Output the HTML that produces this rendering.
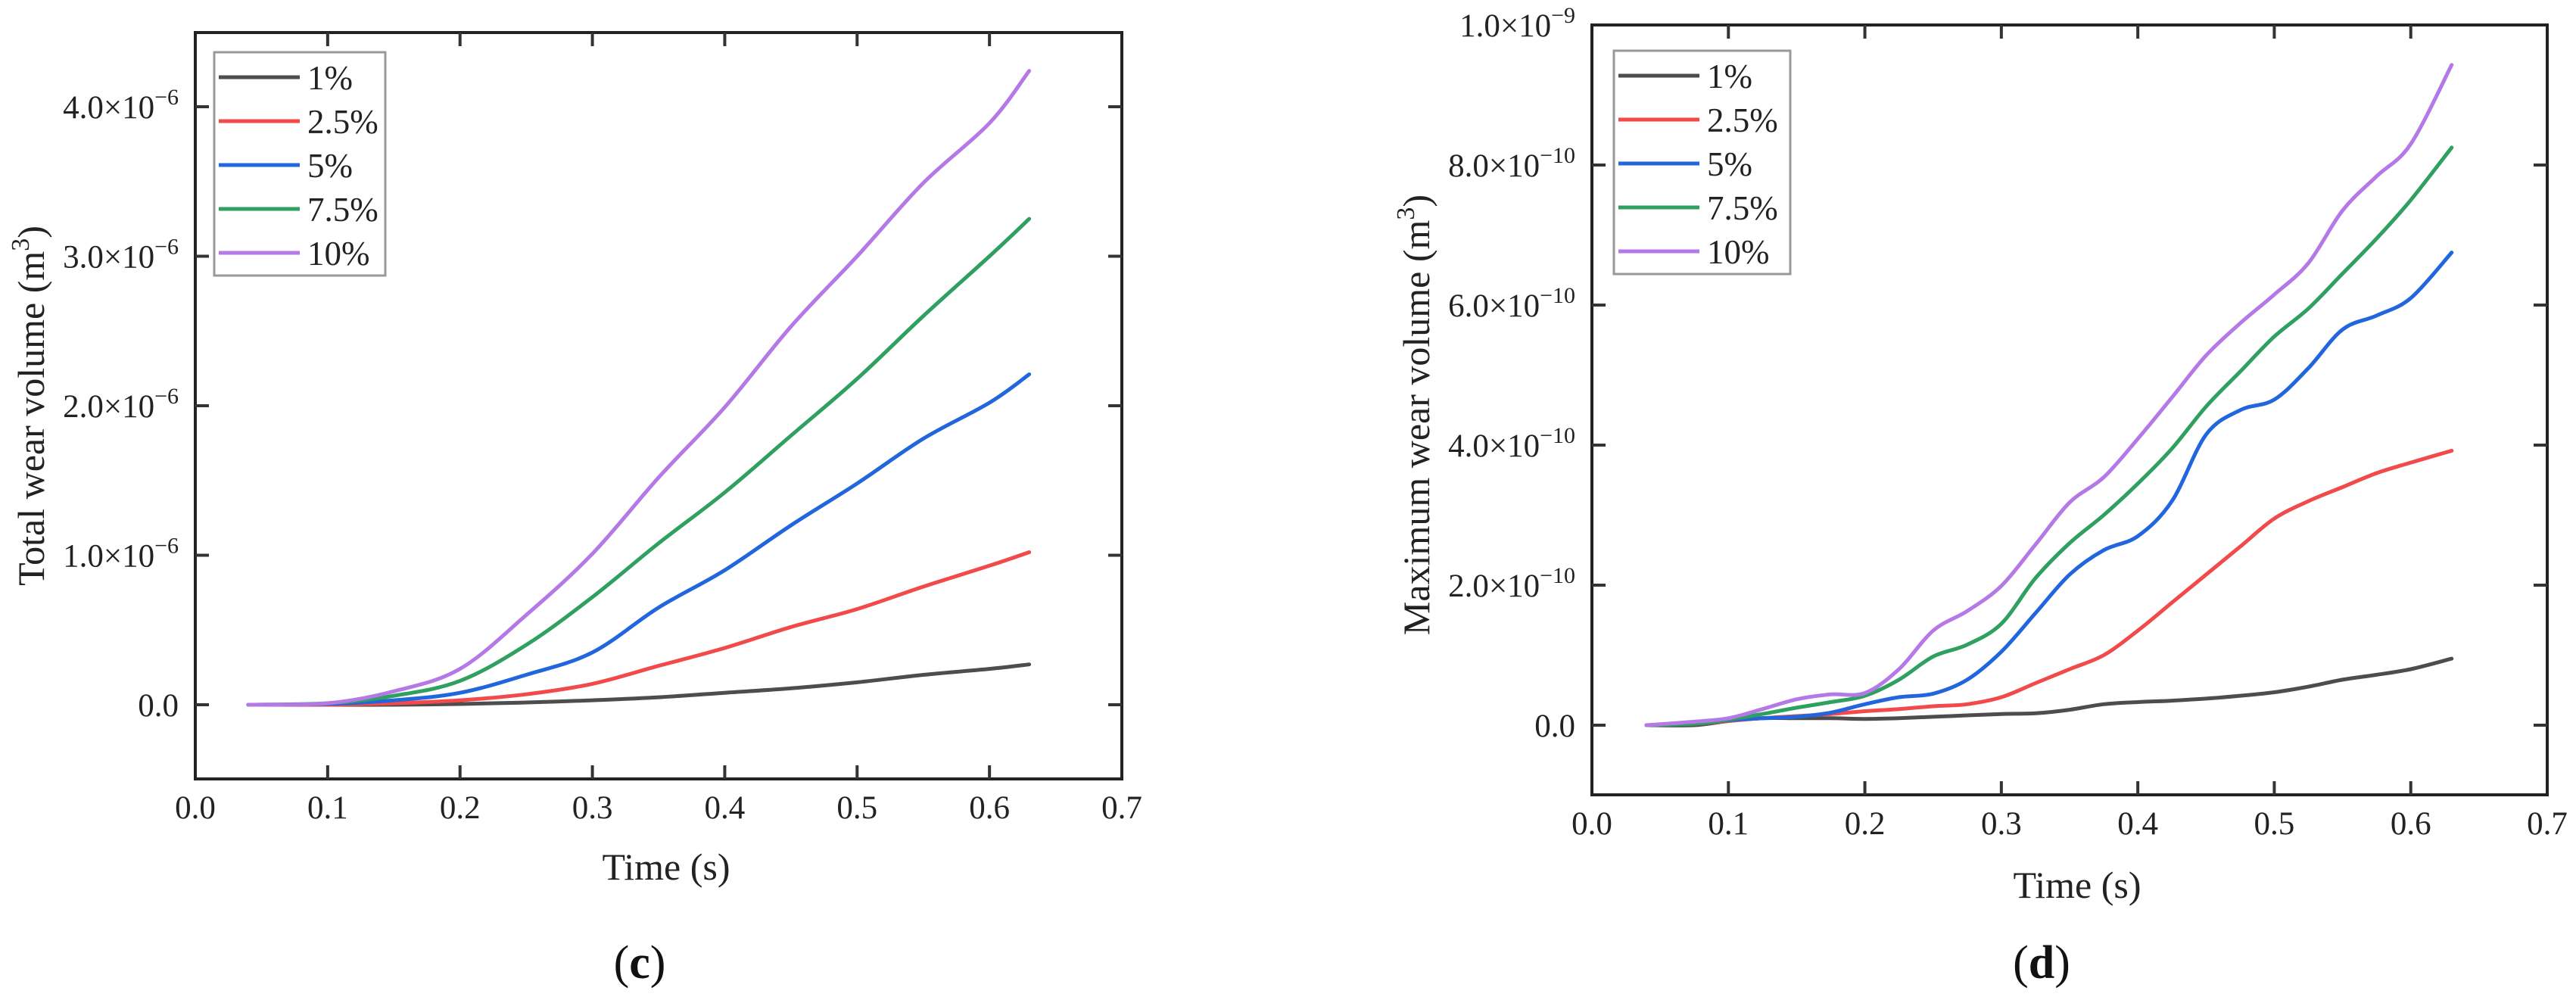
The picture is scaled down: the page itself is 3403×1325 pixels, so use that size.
<!DOCTYPE html>
<html><head><meta charset="utf-8">
<style>
html,body{margin:0;padding:0;background:#fff;}
svg{display:block;font-family:"Liberation Serif",serif;}
</style></head>
<body>
<svg id="svg" width="3403" height="1325" viewBox="0 0 3403 1325" xmlns="http://www.w3.org/2000/svg"></svg>
<script>
// ---------- Chart (c) data: total wear volume (×1e-6 m^3) ----------
const cTimes = [0.04, 0.1, 0.15, 0.2, 0.25, 0.3, 0.35, 0.4, 0.45, 0.5, 0.55, 0.6, 0.63];
const c1   = [0, 0, 0, 0.005, 0.015, 0.03, 0.05, 0.08, 0.11, 0.15, 0.2, 0.24, 0.27];
const c25  = [0, 0, 0.01, 0.03, 0.07, 0.14, 0.26, 0.38, 0.52, 0.64, 0.79, 0.93, 1.02];
const c5   = [0, 0.005, 0.03, 0.08, 0.2, 0.35, 0.65, 0.9, 1.2, 1.48, 1.78, 2.02, 2.21];
const c75  = [0, 0.01, 0.06, 0.16, 0.4, 0.72, 1.08, 1.42, 1.8, 2.18, 2.6, 3.0, 3.25];
const c10  = [0, 0.01, 0.09, 0.24, 0.6, 1.01, 1.52, 1.99, 2.53, 3.0, 3.49, 3.89, 4.24];
const cYTicks = [0, 1, 2, 3, 4];
const cYTickLabels = ["0.0", "1.0×10", "2.0×10", "3.0×10", "4.0×10"];
const cYTickExp = ["", "−6", "−6", "−6", "−6"];

// ---------- Chart (d) data: maximum wear volume (×1e-10 m^3) ----------
const dTimes = [0.04, 0.075, 0.1, 0.125, 0.15, 0.175, 0.2, 0.225, 0.25, 0.275, 0.3, 0.325, 0.35, 0.375, 0.4, 0.425, 0.45, 0.475, 0.5, 0.525, 0.55, 0.575, 0.6, 0.63];
const d1   = [0, 0, 0.06, 0.1, 0.1, 0.1, 0.09, 0.1, 0.12, 0.14, 0.16, 0.17, 0.22, 0.3, 0.33, 0.35, 0.38, 0.42, 0.47, 0.55, 0.65, 0.72, 0.8, 0.95];
const d25  = [0, 0.02, 0.06, 0.1, 0.13, 0.16, 0.2, 0.23, 0.27, 0.3, 0.4, 0.6, 0.8, 1.0, 1.35, 1.75, 2.15, 2.55, 2.95, 3.2, 3.4, 3.6, 3.75, 3.92];
const d5   = [0, 0.02, 0.07, 0.1, 0.12, 0.18, 0.3, 0.4, 0.45, 0.65, 1.05, 1.6, 2.15, 2.5, 2.7, 3.2, 4.15, 4.5, 4.65, 5.1, 5.65, 5.85, 6.1, 6.75];
const d75  = [0, 0.02, 0.08, 0.16, 0.25, 0.33, 0.42, 0.65, 0.98, 1.15, 1.45, 2.1, 2.6, 3.0, 3.45, 3.95, 4.55, 5.05, 5.55, 5.95, 6.45, 6.95, 7.5, 8.25];
const d10  = [0, 0.05, 0.1, 0.23, 0.37, 0.44, 0.46, 0.8, 1.35, 1.63, 1.99, 2.58, 3.18, 3.54, 4.09, 4.68, 5.28, 5.74, 6.15, 6.6, 7.35, 7.84, 8.3, 9.43];
const dYTicks = [0, 2, 4, 6, 8, 10];
const dYTickLabels = ["0.0", "2.0×10", "4.0×10", "6.0×10", "8.0×10", "1.0×10"];
const dYTickExp = ["", "−10", "−10", "−10", "−10", "−9"];

const xTicks = [0, 0.1, 0.2, 0.3, 0.4, 0.5, 0.6, 0.7];
const xTickLabels = ["0.0", "0.1", "0.2", "0.3", "0.4", "0.5", "0.6", "0.7"];
const seriesNames = ["1%", "2.5%", "5%", "7.5%", "10%"];

const colors = ["#4d4d4d", "#f24a4a", "#2266dd", "#2fa060", "#b479e6"];
const NS = "http://www.w3.org/2000/svg";
const svg = document.getElementById("svg");

function mk(tag, attrs, parent) {
  const e = document.createElementNS(NS, tag);
  for (const k in attrs) e.setAttribute(k, attrs[k]);
  (parent || svg).appendChild(e);
  return e;
}

function smoothPath(pts) {
  let d = "M" + pts[0][0].toFixed(1) + "," + pts[0][1].toFixed(1);
  for (let i = 0; i < pts.length - 1; i++) {
    const p0 = pts[i - 1] || pts[i], p1 = pts[i], p2 = pts[i + 1], p3 = pts[i + 2] || p2;
    const c1x = p1[0] + (p2[0] - p0[0]) / 6, c1y = p1[1] + (p2[1] - p0[1]) / 6;
    const c2x = p2[0] - (p3[0] - p1[0]) / 6, c2y = p2[1] - (p3[1] - p1[1]) / 6;
    d += " C" + c1x.toFixed(1) + "," + c1y.toFixed(1) + " " + c2x.toFixed(1) + "," + c2y.toFixed(1) + " " + p2[0].toFixed(1) + "," + p2[1].toFixed(1);
  }
  return d;
}

function drawChart(cfg) {
  const g = mk("g", {});
  
  
  const xs = v => cfg.left + (v - 0) / 0.7 * (cfg.right - cfg.left);
  const ys = v => cfg.y0 - v * cfg.yPer;

  const sg = mk("g", {}, g);
  
  
  cfg.series.forEach((vals, i) => {
    const pts = cfg.times.map((t, j) => [xs(t), ys(vals[j])]);
    const p = mk("path", { d: smoothPath(pts), fill: "none", stroke: colors[i], "stroke-width": 5, "stroke-linejoin": "round", "stroke-linecap": "round" }, sg);
    
    
  });

  const fr = mk("rect", { x: cfg.left, y: cfg.top, width: cfg.right - cfg.left, height: cfg.bottom - cfg.top, fill: "none", stroke: "#222", "stroke-width": 4 }, g);
  
  

  const xg = mk("g", {}, g);
  
  
  xTicks.forEach((t, i) => {
    const x = xs(t);
    if (i > 0 && i < xTicks.length - 1) {
      mk("line", { x1: x, x2: x, y1: cfg.bottom, y2: cfg.bottom - 18, stroke: "#333", "stroke-width": 4 }, xg);
      mk("line", { x1: x, x2: x, y1: cfg.top, y2: cfg.top + 18, stroke: "#333", "stroke-width": 4 }, xg);
    }
    const tx = mk("text", { x: x, y: cfg.bottom + 52, "text-anchor": "middle", "font-size": 43, fill: "#222" }, xg);
    tx.textContent = xTickLabels[i];
    
    
  });

  const yg = mk("g", {}, g);
  
  
  cfg.yTicks.forEach((v, i) => {
    const y = ys(v);
    if (Math.abs(y - cfg.top) > 3) {
      mk("line", { x1: cfg.left, x2: cfg.left + 18, y1: y, y2: y, stroke: "#333", "stroke-width": 4 }, yg);
      mk("line", { x1: cfg.right, x2: cfg.right - 18, y1: y, y2: y, stroke: "#333", "stroke-width": 4 }, yg);
    }
    const tx = mk("text", { x: cfg.left - 22, y: y + 15, "text-anchor": "end", "font-size": 43, fill: "#222" }, yg);
    
    
    if (cfg.yExp[i]) {
      const t1 = mk("tspan", {}, tx); t1.textContent = cfg.yLabels[i];
      const t2 = mk("tspan", { dy: -18, "font-size": 30 }, tx); t2.textContent = cfg.yExp[i];
    } else {
      tx.textContent = cfg.yLabels[i];
    }
  });

  const xt = mk("text", { x: (cfg.left + cfg.right) / 2 + 10, y: cfg.xTitleY, "text-anchor": "middle", "font-size": 50, fill: "#222" }, g);
  xt.textContent = "Time (s)";
  
  

  const yt = mk("text", { x: 0, y: 0, "text-anchor": "middle", "font-size": 50, fill: "#222", transform: "translate(" + cfg.yTitleX + "," + cfg.yTitleY + ") rotate(-90)" }, g);
  
  
  const y1 = mk("tspan", {}, yt); y1.textContent = cfg.yTitle + " (m";
  const y2 = mk("tspan", { dy: -20, "font-size": 34 }, yt); y2.textContent = "3";
  const y3 = mk("tspan", { dy: 20 }, yt); y3.textContent = ")";

  const lg = mk("g", {}, g);
  
  
  mk("rect", { x: cfg.legX, y: cfg.legY, width: cfg.legW, height: 295, fill: "#fff", stroke: "#999", "stroke-width": 3 }, lg);
  seriesNames.forEach((n, i) => {
    const y = cfg.legY + 33 + i * 58;
    const e = mk("g", {}, lg);
    
    
    mk("line", { x1: cfg.legX + 6, x2: cfg.legX + 113, y1: y, y2: y, stroke: colors[i], "stroke-width": 5 }, e);
    const t = mk("text", { x: cfg.legX + 123, y: y + 16, "font-size": 45, fill: "#222" }, e);
    t.textContent = n;
  });

  const pl = mk("text", { x: cfg.panelX, y: 1292, "text-anchor": "middle", "font-size": 62, fill: "#111" }, g);
  
  
  const p1 = mk("tspan", {}, pl); p1.textContent = "(";
  const p2 = mk("tspan", { "font-weight": "bold" }, pl); p2.textContent = cfg.panel;
  const p3 = mk("tspan", {}, pl); p3.textContent = ")";
}

drawChart({
  name: "chart-total-wear-volume", left: 258, right: 1482, top: 43, bottom: 1029,
  y0: 931, yPer: 197.5, times: cTimes, series: [c1, c25, c5, c75, c10],
  yTicks: cYTicks, yLabels: cYTickLabels, yExp: cYTickExp,
  yTitle: "Total wear volume", yTitleX: 58, yTitleY: 536, xTitleY: 1162,
  legX: 283, legY: 69, legW: 226, panel: "c", panelX: 845
});
drawChart({
  name: "chart-maximum-wear-volume", left: 2103, right: 3365, top: 33, bottom: 1050,
  y0: 958, yPer: 92.5, times: dTimes, series: [d1, d25, d5, d75, d10],
  yTicks: dYTicks, yLabels: dYTickLabels, yExp: dYTickExp,
  yTitle: "Maximum wear volume", yTitleX: 1888, yTitleY: 548, xTitleY: 1186,
  legX: 2132, legY: 67, legW: 233, panel: "d", panelX: 2697
});
</script>
</body></html>
